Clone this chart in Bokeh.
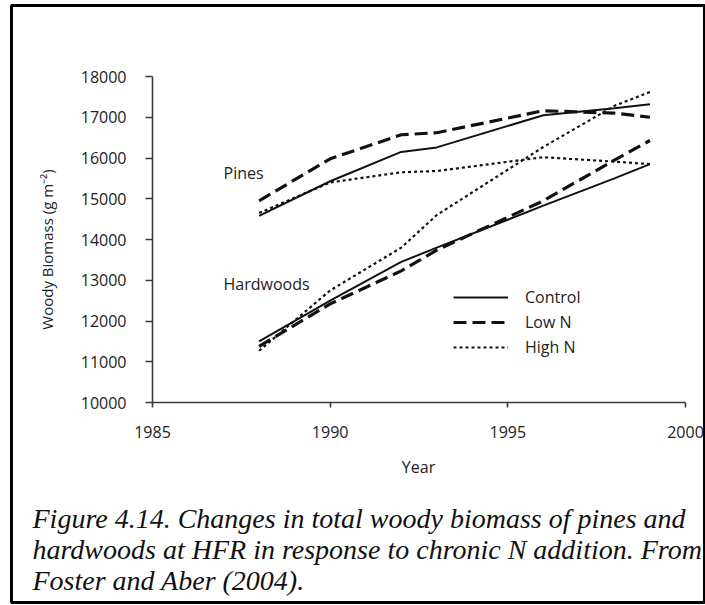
import math
from bokeh.plotting import figure
from bokeh.models import FixedTicker, Label, Legend, LegendItem, Range1d
from bokeh.embed import file_html
from bokeh.resources import INLINE

years = [1988, 1990, 1992, 1993, 1996, 1998, 1999]

pines_control = [14580, 15430, 16150, 16260, 17050, 17220, 17320]
pines_low_n = [14950, 15980, 16570, 16620, 17160, 17100, 17000]
pines_high_n = [14650, 15400, 15650, 15680, 16020, 15910, 15850]

hard_control = [11500, 12500, 13450, 13800, 14830, 15500, 15850]
hard_low_n = [11380, 12420, 13230, 13740, 14950, 15950, 16430]
hard_high_n = [11270, 12750, 13800, 14600, 16270, 17280, 17620]

x_ticks = [1985, 1990, 1995, 2000]
y_ticks = [10000, 11000, 12000, 13000, 14000, 15000, 16000, 17000, 18000]

caption = [
    "Figure 4.14. Changes in total woody biomass of pines and",
    "hardwoods at HFR in response to chronic N addition. From",
    "Foster and Aber (2004).",
]

W, H = 705, 605
# the plot frame doubles as the black picture border; axes sit inside it
FL, FR, FT, FB = 11, 705, 5, 602          # frame edges (px)
AX_L, AX_R, AX_T, AX_B = 152, 685, 76, 402  # axis box (px)
ppx = (AX_R - AX_L) / (x_ticks[-1] - x_ticks[0])
ppy = (AX_B - AX_T) / (y_ticks[-1] - y_ticks[0])
x0 = x_ticks[0] - (AX_L - FL) / ppx
x1 = x_ticks[-1] + (FR - AX_R) / ppx
y0 = y_ticks[0] - (FB - AX_B) / ppy
y1 = y_ticks[-1] + (AX_T - FT) / ppy

p = figure(width=W, height=H, output_backend="svg", toolbar_location=None,
           x_range=Range1d(x0, x1), y_range=Range1d(y0, y1),
           min_border_left=FL, min_border_right=W - FR, min_border_top=FT,
           min_border_bottom=H - FB)
p.outline_line_color = "black"
p.outline_line_width = 3
p.grid.visible = False
p.background_fill_color = "white"
p.border_fill_color = "white"

FONT = "Open Sans"
TXT = "#222222"
for ax in (p.xaxis[0], p.yaxis[0]):
    ax.axis_line_color = "#3a3a3a"
    ax.axis_line_width = 1.6
    ax.major_tick_line_color = "#3a3a3a"
    ax.major_tick_line_width = 1.6
    ax.minor_tick_line_color = None
    ax.major_label_text_font = FONT
    ax.major_label_text_font_size = "16px"
    ax.major_label_text_color = TXT

p.xaxis.fixed_location = y_ticks[0]
p.yaxis.fixed_location = x_ticks[0]
p.xaxis.bounds = (x_ticks[0], x_ticks[-1])
p.yaxis.bounds = (y_ticks[0], y_ticks[-1])
p.xaxis.ticker = FixedTicker(ticks=x_ticks)
p.yaxis.ticker = FixedTicker(ticks=y_ticks)
p.xaxis.major_tick_out = 5
p.xaxis.major_tick_in = 0
p.yaxis.major_tick_out = 7
p.yaxis.major_tick_in = 0
p.xaxis.major_label_standoff = 18
p.yaxis.major_label_standoff = 19

C = "#111111"
styles = {
    "control": dict(line_width=2, line_dash="solid"),
    "low": dict(line_width=3.2, line_dash="13 6"),
    "high": dict(line_width=2.2, line_dash="3 3"),
}

p.line(years, pines_control, color=C, **styles["control"])
p.line(years, pines_low_n, color=C, **styles["low"])
p.line(years, pines_high_n, color=C, **styles["high"])
r_c = p.line(years, hard_control, color=C, **styles["control"])
r_l = p.line(years, hard_low_n, color=C, **styles["low"])
r_h = p.line(years, hard_high_n, color=C, **styles["high"])

def scr(x, y):
    """page pixel -> frame-relative screen units"""
    return dict(x=x - FL, y=FB - y, x_units="screen", y_units="screen")

p.add_layout(Label(text="Year", text_font=FONT, text_font_size="16px",
                   text_color=TXT, text_align="center", text_baseline="middle",
                   **scr(418, 466)))
p.add_layout(Label(text="Woody Biomass (g m\u207b\u00b2)", text_font=FONT,
                   text_font_size="15px", text_color=TXT, angle=math.pi / 2,
                   text_align="center", text_baseline="middle", **scr(46, 249)))

p.add_layout(Label(text="Pines", text_font=FONT, text_font_size="16px",
                   text_color=TXT, text_baseline="middle", **scr(223, 172)))
p.add_layout(Label(text="Hardwoods", text_font=FONT, text_font_size="16px",
                   text_color=TXT, text_baseline="middle", **scr(223, 283)))

legend = Legend(items=[LegendItem(label="Control", renderers=[r_c]),
                       LegendItem(label="Low N", renderers=[r_l]),
                       LegendItem(label="High N", renderers=[r_h])],
                location=(453 - FL, FB - 358), orientation="vertical",
                glyph_width=55, glyph_height=20, label_standoff=17,
                spacing=3, padding=0, margin=0,
                label_text_font=FONT, label_text_font_size="16px",
                label_text_color=TXT, label_text_baseline="middle",
                border_line_color=None, background_fill_alpha=0)
p.add_layout(legend)

for i, line in enumerate(caption):
    p.add_layout(Label(text=line, text_font="Liberation Serif",
                       text_font_style="italic", text_font_size="28px",
                       text_color="#111111", text_baseline="middle",
                       **scr(32, 518 + 31 * i)))

open("out.html", "w").write(file_html(p, INLINE))
